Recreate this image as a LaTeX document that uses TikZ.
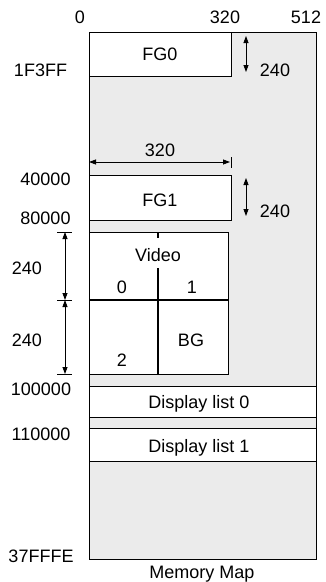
\documentclass[tikz,border=0pt]{standalone}
\usepackage{fontspec}
\setmainfont{Liberation Sans}
\usetikzlibrary{arrows.meta}
\definecolor{memgray}{HTML}{EBEBEB}
\begin{document}
\begin{tikzpicture}[x=1pt,y=-1pt,
  box/.style={draw,line width=1.4pt,fill=white,inner sep=0pt,anchor=north west},
  lbl/.style={anchor=base,inner sep=0pt,font=\fontsize{18}{21}\selectfont},
  dimarrow/.style={line width=0.8pt,{Triangle[length=7pt,width=5pt]}-{Triangle[length=7pt,width=5pt]}},
  ticker/.style={line width=0.8pt}]
\useasboundingbox (0,0) rectangle (325,582);
% outer memory block
\node[box,fill=memgray,minimum width=227pt,minimum height=527pt] (mem) at (89,32) {};
% boxes
\node[box,minimum width=142pt,minimum height=44pt] (fg0) at (89,32) {};
\node[box,minimum width=142pt,minimum height=45pt] (fg1) at (89,175) {};
\node[box,minimum width=139pt,minimum height=142pt] (vid) at (89,232) {};
\node[box,minimum width=227pt,minimum height=31pt] (dl0) at (89,386) {};
\node[box,minimum width=227pt,minimum height=33pt] (dl1) at (89,428) {};
% video inner lines
\coordinate (vt) at (158,232);
\coordinate (vg1) at (158,238);
\coordinate (vg2) at (158,268);
\coordinate (vb) at (158,374);
\coordinate (hl) at (89,300);
\coordinate (hr) at (228,300);
\draw[line width=1.4pt] (vt) -- (vg1);
\draw[line width=1.4pt] (vg2) -- (vb);
\draw[line width=1.4pt] (hl) -- (hr);
% top scale labels
\node[lbl] (s0) at (80,23) {0};
\node[lbl] (s320) at (225,23) {320};
\node[lbl] (s512) at (306,23) {512};
% FG0
\node[lbl] (tfg0) at (160,60) {FG0};
\node[lbl] (a1f) at (40.5,76) {1F3FF};
\coordinate (d1a) at (246,36);
\coordinate (d1b) at (246,72);
\draw[dimarrow] (d1a) -- (d1b);
\node[lbl] (t240a) at (275,76) {240};
% 320 width arrow
\node[lbl] (t320) at (160,156) {320};
\coordinate (w1) at (89,162);
\coordinate (w2) at (230,162);
\draw[dimarrow] (w1) -- (w2);
\coordinate (wt1) at (231,157);
\coordinate (wt2) at (231,168);
\draw[ticker] (wt1) -- (wt2);
% FG1
\node[lbl] (a40) at (45.5,185) {40000};
\node[lbl] (tfg1) at (160,206) {FG1};
\node[lbl] (a80) at (45.5,224) {80000};
\coordinate (d2a) at (246,178);
\coordinate (d2b) at (246,216);
\draw[dimarrow] (d2a) -- (d2b);
\node[lbl] (t240b) at (275,217) {240};
% left dimension
\coordinate (k1a) at (57,232); \coordinate (k1b) at (72,232);
\coordinate (k2a) at (57,300); \coordinate (k2b) at (72,300);
\coordinate (k3a) at (57,374); \coordinate (k3b) at (72,374);
\draw[ticker] (k1a) -- (k1b);
\draw[ticker] (k2a) -- (k2b);
\draw[ticker] (k3a) -- (k3b);
\coordinate (m1) at (65,232);
\coordinate (m2) at (65,300);
\coordinate (m3) at (65,374);
\draw[dimarrow] (m1) -- (m2);
\draw[dimarrow] (m2) -- (m3);
\node[lbl] (t240c) at (27,274) {240};
\node[lbl] (t240d) at (27,346) {240};
% video labels
\node[lbl] (tvid) at (158,261) {Video};
\node[lbl] (tv0) at (122,293) {0};
\node[lbl] (tv1) at (192,293) {1};
\node[lbl] (tv2) at (122,366) {2};
\node[lbl] (tbg) at (191,346) {BG};
% display lists
\node[lbl] (a100) at (41,395) {100000};
\node[lbl] (tdl0) at (199,408) {Display list 0};
\node[lbl] (a110) at (41,440) {110000};
\node[lbl] (tdl1) at (199,452) {Display list 1};
\node[lbl] (a37) at (41,562) {37FFFE};
\node[lbl] (tmm) at (202,578) {Memory Map};
\end{tikzpicture}
\end{document}
